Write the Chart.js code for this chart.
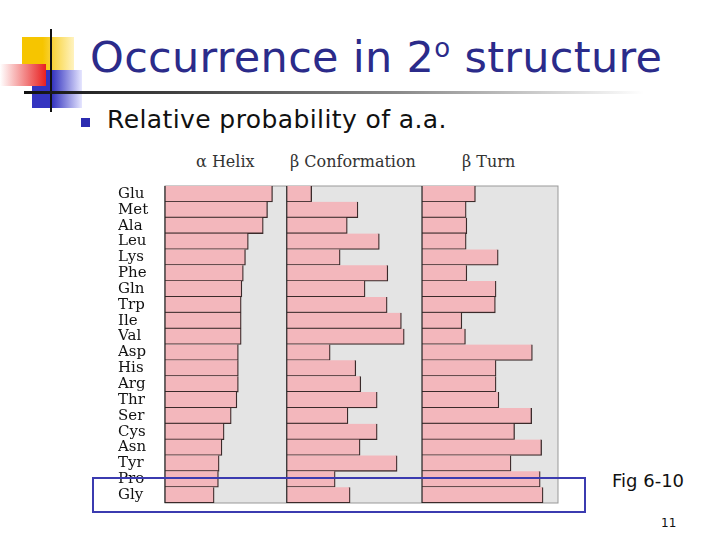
<!DOCTYPE html>
<html>
<head>
<meta charset="utf-8">
<script src="https://cdn.jsdelivr.net/npm/chart.js@4/dist/chart.umd.min.js"></script>
<style>
  body { margin: 0; width: 720px; height: 540px; background: #fff; position: relative; overflow: hidden; font-family: "DejaVu Sans", sans-serif; }
  .abs { position: absolute; }
  #title { left: 90px; top: 32px; font-size: 43px; color: #2b2b8a; white-space: nowrap; letter-spacing: 0.3px; }
  #title sup { font-size: 26px; }
  #sub { left: 107px; top: 105px; font-size: 25px; color: #111; white-space: nowrap; letter-spacing: 0.4px; }
  .hd { top: 152px; font-family: "DejaVu Serif", serif; font-size: 16px; color: #333; white-space: nowrap; }
  #wrap { left: 118px; top: 173px; width: 446px; height: 343px; }
</style>
</head>
<body>
<!-- decoration -->
<div class="abs" style="left:22px;top:37px;width:52px;height:34px;background:linear-gradient(90deg,#f6c500 40%,#fff3c0)"></div>
<div class="abs" style="left:32px;top:70px;width:50px;height:38px;background:linear-gradient(90deg,#3434c0 40%,#e6e6ff)"></div>
<div class="abs" style="left:0;top:64px;width:46px;height:22px;background:linear-gradient(90deg,#fff,#e82020)"></div>
<div class="abs" style="left:50px;top:29px;width:2px;height:83px;background:#111"></div>
<div class="abs" style="left:24px;top:91px;width:620px;height:3px;background:linear-gradient(90deg,#111,#888 60%,#fff)"></div>
<div class="abs" style="left:81px;top:118px;width:9px;height:9px;background:#2b2bb0"></div>

<div id="title" class="abs">Occurrence in 2<sup>o</sup> structure</div>
<div id="sub" class="abs">Relative probability of a.a.</div>
<div class="abs hd" style="left:196px">α Helix</div>
<div class="abs hd" style="left:290px">β Conformation</div>
<div class="abs hd" style="left:462px">β Turn</div>

<div id="wrap" class="abs"><canvas id="c"></canvas></div>

<div class="abs" style="left:92px;top:477px;width:490px;height:32px;border:2px solid #3b3bb0"></div>
<div class="abs" style="left:612px;top:470px;font-size:18px;color:#111">Fig 6-10</div>
<div class="abs" style="left:661px;top:516px;font-size:12px;color:#111">11</div>

<script>
// amino acids, top to bottom
const aminoAcids = ['Glu','Met','Ala','Leu','Lys','Phe','Gln','Trp','Ile','Val',
  'Asp','His','Arg','Thr','Ser','Cys','Asn','Tyr','Pro','Gly'];
// relative probabilities
const helix = [1.51,1.44,1.38,1.17,1.13,1.10,1.08,1.07,1.07,1.07,
  1.03,1.03,1.03,1.01,0.93,0.83,0.80,0.76,0.75,0.69];
const beta = [0.35,1.00,0.85,1.30,0.75,1.42,1.10,1.41,1.61,1.65,
  0.61,0.97,1.04,1.27,0.86,1.27,1.03,1.55,0.68,0.89];
const turn = [0.75,0.62,0.63,0.62,1.07,0.63,1.04,1.03,0.56,0.61,
  1.55,1.04,1.04,1.08,1.54,1.30,1.68,1.25,1.66,1.70];
// where each panel starts on the shared axis
const panelStart = [0, 1.71, 3.61];
const axisMax = 5.52;

const toRange = (vals, off) => vals.map(v => [off, off + v]);

const panelBg = {
  id: 'panelBg',
  beforeDraw(chart) {
    const { ctx, chartArea: a } = chart;
    ctx.save();
    ctx.fillStyle = '#e4e4e4';
    ctx.fillRect(a.left, a.top, a.right - a.left, a.bottom - a.top);
    ctx.strokeStyle = '#999';
    ctx.strokeRect(a.left, a.top, a.right - a.left, a.bottom - a.top);
    ctx.restore();
  },
  afterDatasetsDraw(chart) {
    const { ctx, chartArea: a, scales } = chart;
    ctx.save();
    ctx.strokeStyle = '#222';
    ctx.lineWidth = 1.2;
    panelStart.forEach(p => {
      const x = scales.x.getPixelForValue(p);
      ctx.beginPath(); ctx.moveTo(x, a.top); ctx.lineTo(x, a.bottom); ctx.stroke();
    });
    ctx.restore();
  }
};

const barStyle = {
  backgroundColor: '#f3b7bc',
  borderColor: '#3a2a2a',
  borderWidth: { top: 0, left: 0, right: 1.3, bottom: 1.3 },
  borderSkipped: false,
  barPercentage: 1,
  categoryPercentage: 1,
  grouped: false
};

new Chart(document.getElementById('c'), {
  type: 'bar',
  data: {
    labels: aminoAcids,
    datasets: [
      { label: 'α Helix', data: toRange(helix, panelStart[0]), ...barStyle },
      { label: 'β Conformation', data: toRange(beta, panelStart[1]), ...barStyle },
      { label: 'β Turn', data: toRange(turn, panelStart[2]), ...barStyle }
    ]
  },
  options: {
    indexAxis: 'y',
    animation: false,
    responsive: true,
    maintainAspectRatio: false,
    layout: { padding: { top: 4, right: 6, bottom: 4 } },
    plugins: { legend: { display: false }, tooltip: { enabled: false } },
    scales: {
      x: { min: 0, max: axisMax, display: false },
      y: {
        grid: { display: false },
        border: { display: false },
        ticks: {
          color: '#111', autoSkip: false, mirror: false, crossAlign: 'far', padding: 4,
          font: { family: 'DejaVu Serif', size: 15 }
        },
        afterFit(s) { s.width = 47; }
      }
    }
  },
  plugins: [panelBg]
});
</script>
</body>
</html>
